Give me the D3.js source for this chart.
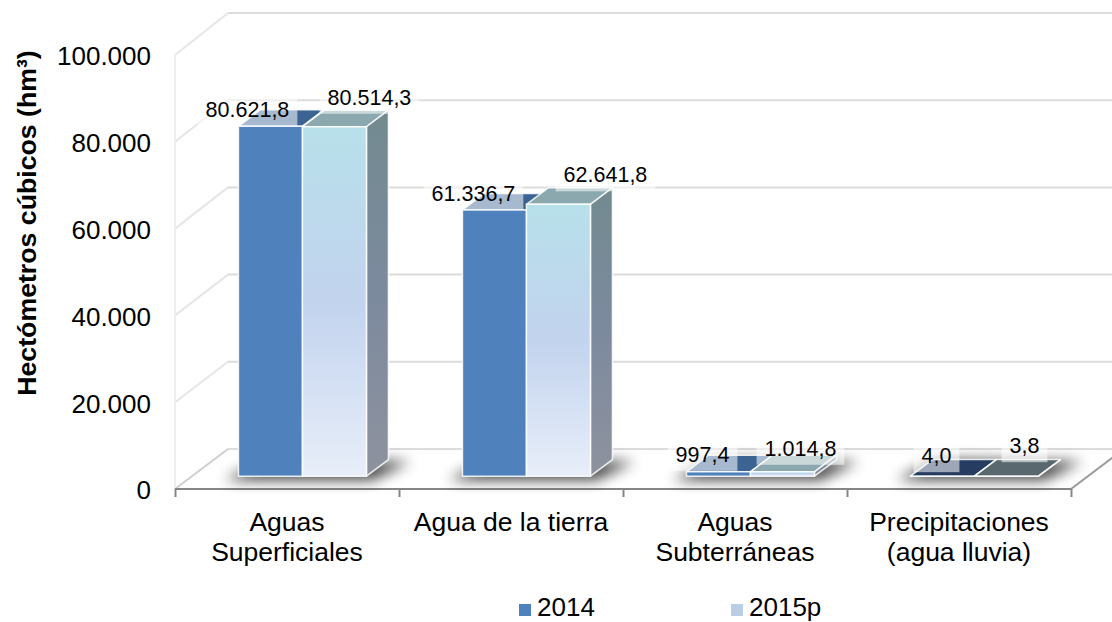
<!DOCTYPE html>
<html>
<head>
<meta charset="utf-8">
<style>
  html, body { margin: 0; padding: 0; background: #fff; }
  text { font-family: "Liberation Sans", Arial, sans-serif; fill: #000; }
</style>
<script src="https://cdn.jsdelivr.net/npm/d3@7"></script>
</head>
<body>
<svg id="chart" width="1112" height="622"></svg>
<script>
/// Values:
var categories = [
  ["Aguas", "Superficiales"],
  ["Agua de la tierra"],
  ["Aguas", "Subterráneas"],
  ["Precipitaciones", "(agua lluvia)"]
];
var series_names = ["2014", "2015p"];
var values_2014 = [80621.8, 61336.7, 997.4, 4.0];
var values_2015 = [80514.3, 62641.8, 1014.8, 3.8];
var value_ticks = [0, 20000, 40000, 60000, 80000, 100000];

/// Styling, kept apart from the values:
var top_colors_2014 = ["#3c6493", "#3c6493", "#3c6493", "#263c60"];
var top_colors_2015 = ["#8aa8ae", "#8aa8ae", "#8aa8ae", "#58686e"];
var label_nudge_2014 = [-23, -21, -16, -6];
var label_nudge_2015 = [35, 47, 18, 18];
var label_lift_2014 = [9, 9, 10, 13];
var label_lift_2015 = [22, 22, 16, 23];

var es = d3.formatLocale({ decimal: ",", thousands: ".", grouping: [3], currency: ["", ""] });
var fmt_tick = es.format(",d");
var fmt_value = es.format(",.1f");

var svg = d3.select("#chart");
var defs = svg.append("defs");

// front plane of the plot and the 3d depth vector
var x0 = 175, x1 = 1071, y_floor = 489, y_top = 55;
var depth = { dx: 53, dy: -40 };
var bar_near = 0.32, bar_far = 0.735;

var y = d3.scaleLinear().domain([0, 100000]).range([y_floor, y_top]);
var y_back = d3.scaleLinear().domain([0, 100000]).range([449, 13]); // back wall
var x_band = d3.scaleBand().domain(d3.range(categories.length)).range([x0, x1]);
var x_edges = d3.scaleLinear().domain([0, categories.length]).range([x0, x1]);
var bar_w = 64;

// takes a plot position (px, value, depth fraction) to screen
function project(px, v, d) {
  return [px + depth.dx * d, y(v) + depth.dy * d];
}
function poly(points) { return points.map(function(p) { return p.join(","); }).join(" "); }

function gradient(id, stops) {
  var g = defs.append("linearGradient").attr("id", id)
    .attr("x1", 0).attr("y1", 0).attr("x2", 0).attr("y2", 1);
  stops.forEach(function(s) {
    g.append("stop").attr("offset", s[0]).attr("stop-color", s[1]);
  });
}
gradient("front2015", [[0, "#b7e0ea"], [0.5, "#c2d3ee"], [1, "#e8eef9"]]);
gradient("side2015", [[0, "#738a90"], [0.5, "#7c8a9e"], [1, "#8e929e"]]);
defs.append("filter").attr("id", "soft")
    .attr("x", "-30%").attr("y", "-100%").attr("width", "160%").attr("height", "300%")
  .append("feGaussianBlur").attr("stdDeviation", 7);

// walls: back gridlines, left wall diagonals, floor
var wall = svg.append("g").attr("fill", "none");
wall.selectAll("line.back")
  .data(value_ticks)
  .enter().append("line").attr("class", "back")
    .attr("x1", x0 + depth.dx).attr("x2", x1 + depth.dx)
    .attr("y1", function(d) { return y_back(d); })
    .attr("y2", function(d) { return y_back(d); })
    .attr("stroke", "#dcdcdc").attr("stroke-width", 2);
wall.selectAll("line.diag")
  .data(value_ticks)
  .enter().append("line").attr("class", "diag")
    .attr("x1", x0).attr("x2", x0 + depth.dx)
    .attr("y1", function(d) { return y(d); })
    .attr("y2", function(d) { return y_back(d); })
    .attr("stroke", function(d) { return d === 0 ? "#cfcfcf" : "#e6e6e6"; }).attr("stroke-width", 2);
wall.append("line")
    .attr("x1", x0).attr("x2", x0).attr("y1", y(100000)).attr("y2", y(0))
    .attr("stroke", "#eeeeee").attr("stroke-width", 2);
wall.append("line")
    .attr("x1", x1).attr("x2", x1 + depth.dx).attr("y1", y(0)).attr("y2", y_back(0))
    .attr("stroke", "#9a9a9a").attr("stroke-width", 2);

// axes
var axis_x = svg.append("g")
    .attr("transform", "translate(0," + y_floor + ")")
    .call(d3.axisBottom(x_edges).tickValues(d3.range(categories.length + 1)).tickSize(8).tickFormat(""));
axis_x.selectAll("path, line").attr("stroke", "#868686").attr("stroke-width", 2);
axis_x.select("path").attr("d", "M" + x0 + ",0H" + x1);

var axis_y = svg.append("g")
    .attr("transform", "translate(" + x0 + ",0)")
    .call(d3.axisLeft(y).tickValues(value_ticks).tickSize(0).tickPadding(24).tickFormat(fmt_tick));
axis_y.select("path").remove();
axis_y.selectAll("text").attr("dy", "0.38em").style("font-size", "26px").style("font-family", null);

// bars
var rows = [];
categories.forEach(function(c, i) {
  var left = x_band(i) + (x_band.bandwidth() - 2 * bar_w) / 2 - 1.5;
  rows.push({ i: i, s: 0, v: values_2014[i], left: left });
  rows.push({ i: i, s: 1, v: values_2015[i], left: left + bar_w });
});

svg.append("g").selectAll("polygon")
  .data(categories.map(function(c, i) { return i; }))
  .enter().append("polygon")
    .attr("filter", "url(#soft)")
    .attr("fill", "#000").attr("opacity", 0.72)
    .attr("points", function(i) {
      var l = x_band(i) + (x_band.bandwidth() - 2 * bar_w) / 2 - 1.5, r = l + 2 * bar_w;
      var a = project(l - 14, 0, bar_near), b = project(r + 6, 0, bar_near), c = project(r + 16, 0, bar_far), e = project(l + 4, 0, bar_far);
      return poly([[a[0], a[1] + 4], [b[0], b[1] + 4], [c[0] + 6, c[1] + 2], e]);
    });

var bars = svg.append("g").selectAll("g")
  .data(rows)
  .enter().append("g")
    .attr("stroke", "#ffffff").attr("stroke-opacity", 0.85).attr("stroke-width", 1.5).attr("stroke-linejoin", "round");

bars.append("polygon") // top face
    .attr("fill", function(d) { return d.s ? top_colors_2015[d.i] : top_colors_2014[d.i]; })
    .attr("points", function(d) {
      return poly([project(d.left, d.v, bar_near), project(d.left + bar_w, d.v, bar_near),
                   project(d.left + bar_w, d.v, bar_far), project(d.left, d.v, bar_far)]);
    });
bars.append("polygon") // side face
    .attr("fill", function(d) { return d.s ? "url(#side2015)" : "#3c6493"; })
    .attr("points", function(d) {
      return poly([project(d.left + bar_w, 0, bar_near), project(d.left + bar_w, d.v, bar_near),
                   project(d.left + bar_w, d.v, bar_far), project(d.left + bar_w, 0, bar_far)]);
    });
bars.append("polygon") // front face
    .attr("fill", function(d) { return d.s ? "url(#front2015)" : "#4f81bd"; })
    .attr("points", function(d) {
      return poly([project(d.left, 0, bar_near), project(d.left, d.v, bar_near),
                   project(d.left + bar_w, d.v, bar_near), project(d.left + bar_w, 0, bar_near)]);
    });

// data labels sit on a half transparent white box
var labels = svg.append("g").selectAll("g")
  .data(rows)
  .enter().append("g")
    .attr("transform", function(d) {
      var p = project(d.left + bar_w / 2, d.v, bar_near);
      var nudge = d.s ? label_nudge_2015[d.i] : label_nudge_2014[d.i];
      var lift = d.s ? label_lift_2015[d.i] : label_lift_2014[d.i];
      return "translate(" + (p[0] + nudge) + "," + (p[1] - lift) + ")";
    });
labels.append("text")
    .attr("text-anchor", "middle")
    .style("font-size", "21.5px")
    .text(function(d) { return fmt_value(d.v); });
labels.insert("rect", "text")
    .attr("fill", "#fff").attr("fill-opacity", 0.55)
    .each(function() {
      var b = this.parentNode.querySelector("text").getBBox();
      d3.select(this).attr("x", b.x - 8).attr("width", b.width + 16).attr("y", -24).attr("height", 33);
    });

// category labels
var cat = svg.append("g").selectAll("text")
  .data(categories)
  .enter().append("text")
    .attr("text-anchor", "middle")
    .style("font-size", "26.5px")
    .attr("transform", function(d, i) { return "translate(" + (x_band(i) + x_band.bandwidth() / 2) + ",531)"; });
cat.selectAll("tspan")
  .data(function(d) { return d; })
  .enter().append("tspan")
    .attr("x", 0)
    .attr("y", function(d, i) { return i * 30; })
    .text(function(d) { return d; });

// axis title
svg.append("text")
    .attr("transform", "translate(36,223) rotate(-90)")
    .attr("text-anchor", "middle")
    .style("font-size", "26.7px").style("font-weight", "bold")
    .text("Hectómetros cúbicos (hm³)");

// legend
var legend_x = d3.scalePoint().domain(series_names).range([519, 731]);
var legend = svg.append("g").selectAll("g")
  .data(series_names)
  .enter().append("g")
    .attr("transform", function(d) { return "translate(" + legend_x(d) + ",604)"; });
legend.append("rect").attr("width", 12).attr("height", 12)
    .attr("fill", function(d, i) { return i ? "#b9cde5" : "#4f81bd"; });
legend.append("text").attr("x", 18).attr("y", 12).style("font-size", "26px")
    .text(function(d) { return d; });
</script>
</body>
</html>
